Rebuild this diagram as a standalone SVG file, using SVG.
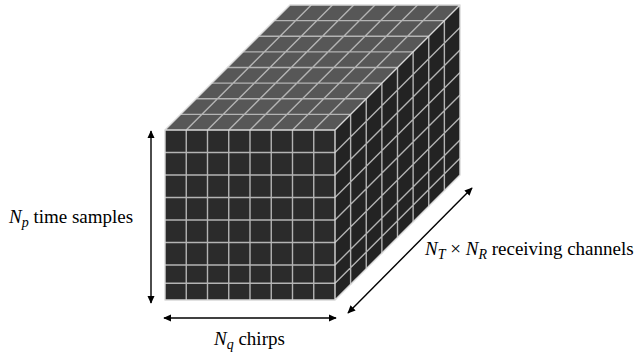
<svg xmlns="http://www.w3.org/2000/svg" width="644" height="356" viewBox="0 0 644 356">
<defs>
<marker id="ah" viewBox="0 0 10 10" refX="9" refY="5" markerWidth="8" markerHeight="8" markerUnits="userSpaceOnUse" orient="auto-start-reverse">
<path d="M0,0.5 L10,5 L0,9.5 z" fill="#000"/>
</marker>
</defs>
<rect width="644" height="356" fill="#fff"/>
<g id="cube">
<g id="top-face">
<polygon points="165,130 335,130 460,5 290,5" fill="#575757"/>
<path fill="none" stroke="#b4b4b4" stroke-width="1.4" d="M180.625,114.375H350.625M196.25,98.75H366.25M211.875,83.125H381.875M227.5,67.5H397.5M243.125,51.875H413.125M258.75,36.25H428.75M274.375,20.625H444.375 M186.25,130L311.25,5M207.5,130L332.5,5M228.75,130L353.75,5M250,130L375,5M271.25,130L396.25,5M292.5,130L417.5,5M313.75,130L438.75,5"/>
</g>
<g id="side-face">
<polygon points="335,130 460,5 460,175 335,300" fill="#232323"/>
<path fill="none" stroke="#b4b4b4" stroke-width="1.4" d="M350.625,114.375V284.375M366.25,98.75V268.75M381.875,83.125V253.125M397.5,67.5V237.5M413.125,51.875V221.875M428.75,36.25V206.25M444.375,20.625V190.625 M335,152.5L460,27.5M335,175L460,50M335,197.5L460,72.5M335,220L460,95M335,242.5L460,117.5M335,265L460,140M335,283.3L460,158.3"/>
</g>
<g id="front-face">
<rect x="165" y="130" width="170" height="170" fill="#2b2b2b"/>
<path fill="none" stroke="#b4b4b4" stroke-width="1.4" d="M186.25,130V300M207.5,130V300M228.75,130V300M250,130V300M271.25,130V300M292.5,130V300M313.75,130V300 M165,152.5H335M165,175H335M165,197.5H335M165,220H335M165,242.5H335M165,265H335M165,283.3H335"/>
</g>
<path fill="none" stroke="#d8d8d8" stroke-width="1.4" stroke-linejoin="round" d="M165,300V130H335V300ZM165,130L290,5H460L335,130M460,5V175L335,300"/>
</g>
<g id="connectors" fill="none" stroke="#000" stroke-width="1.4">
<line x1="151" y1="131" x2="151" y2="303" marker-start="url(#ah)" marker-end="url(#ah)"/>
<line x1="164" y1="318" x2="336" y2="318" marker-start="url(#ah)" marker-end="url(#ah)"/>
<line x1="348" y1="313" x2="472" y2="188" marker-start="url(#ah)" marker-end="url(#ah)"/>
</g>
<text x="9" y="223" font-family="Times New Roman, Liberation Serif, serif" font-size="19" fill="#000"><tspan font-family="Times New Roman, Liberation Serif, serif" font-style="italic">N</tspan><tspan font-family="Times New Roman, Liberation Serif, serif" font-style="italic" font-size="14" dy="4">p</tspan><tspan font-family="Times New Roman, Liberation Serif, serif" dy="-4"> time samples</tspan></text>
<text x="214" y="345" font-family="Times New Roman, Liberation Serif, serif" font-size="19" fill="#000"><tspan font-family="Times New Roman, Liberation Serif, serif" font-style="italic">N</tspan><tspan font-family="Times New Roman, Liberation Serif, serif" font-style="italic" font-size="14" dy="4">q</tspan><tspan font-family="Times New Roman, Liberation Serif, serif" dy="-4"> chirps</tspan></text>
<text x="425" y="255" font-family="Times New Roman, Liberation Serif, serif" font-size="19" fill="#000"><tspan font-family="Times New Roman, Liberation Serif, serif" font-style="italic">N</tspan><tspan font-family="Times New Roman, Liberation Serif, serif" font-style="italic" font-size="14" dy="4">T</tspan><tspan font-family="Times New Roman, Liberation Serif, serif" dy="-4"> × </tspan><tspan font-family="Times New Roman, Liberation Serif, serif" font-style="italic">N</tspan><tspan font-family="Times New Roman, Liberation Serif, serif" font-style="italic" font-size="14" dy="4">R</tspan><tspan font-family="Times New Roman, Liberation Serif, serif" dy="-4"> receiving channels</tspan></text>
</svg>
